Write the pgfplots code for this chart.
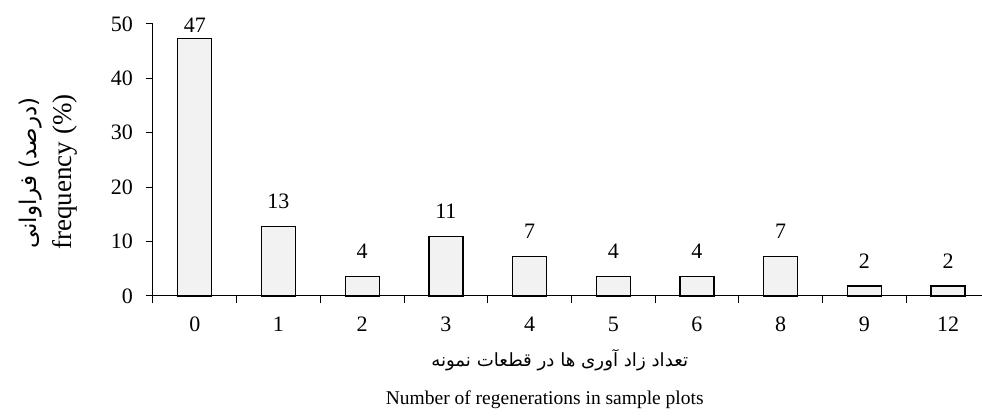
\documentclass[border=0pt]{standalone}
\usepackage{fontspec}
\setmainfont{Liberation Serif}
\newfontfamily\fa[Script=Arabic]{DejaVu Sans}
\TeXXeTstate=1
\usepackage{pgfplots}
\pgfplotsset{compat=1.18}

\definecolor{barfill}{HTML}{F2F2F2}

\begin{document}
\begin{tikzpicture}[font=\fontsize{9.75}{11}\selectfont]
\begin{axis}[
    at={(0,0)}, anchor=south west,
    scale only axis,
    width=414.5pt, height=136pt,
    xmin=-0.5, xmax=9.4,
    ymin=0, ymax=50,
    axis x line*=bottom, axis y line*=left,
    axis line style={-, line width=0.5pt},
    xtick={0,...,9},
    xticklabels={0,1,2,3,4,5,6,8,9,12},
    minor xtick={-0.5,0.5,...,8.5},
    ytick={0,10,...,50},
    tick align=outside,
    major x tick style={draw=none},
    minor tick length=3.5pt,
    major tick length=3.5pt,
    tick style={line width=0.5pt, black},
    tick label style={font=\fontsize{11}{13}\selectfont},
    xticklabel style={yshift=-3.5pt},
    yticklabel style={xshift=-3pt},
    /pgf/number format/assume math mode=true,
    ybar, bar width=17pt, bar shift=0pt,
    clip=false,
]
\addplot[draw=black, line width=0.65pt, fill=barfill, bar shift=0pt,
    nodes near coords={\pgfmathprintnumber[fixed,precision=0]{\pgfplotspointmeta}},
    nodes near coords style={anchor=south, inner sep=0pt, yshift=3pt, font=\fontsize{11}{13}\selectfont}]
    coordinates {(0,47.3)};
\addplot[draw=black, line width=0.65pt, fill=barfill, bar shift=0pt,
    nodes near coords={\pgfmathprintnumber[fixed,precision=0]{\pgfplotspointmeta}},
    nodes near coords style={anchor=south, inner sep=0pt, yshift=8.5pt, font=\fontsize{11}{13}\selectfont}]
    coordinates {(1,12.7)(2,3.6)(3,10.9)(4,7.3)(5,3.6)(6,3.6)(7,7.3)(8,1.8)(9,1.8)};
\end{axis}
% axis titles (1px = 0.5pt, axis corner at 153,296 px)
\node[rotate=90, font=\fontsize{13.5}{15}\selectfont] at (-44pt,62pt) {frequency (\%)};
\node[rotate=90, font=\fa\fontsize{11.5}{14}\selectfont] at (-61pt,61.5pt) {\beginR(درصد) فراوانی\endR};
\node[font=\fa\fontsize{9.1}{11}\selectfont] at (203.5pt,-32pt) {\beginR تعداد زاد آوری ها در قطعات نمونه\endR};
\node at (196pt,-52pt) {Number of regenerations in sample plots};
\path (-76.5pt,-60.5pt) rectangle (414.5pt,148pt);
\end{tikzpicture}
\end{document}
